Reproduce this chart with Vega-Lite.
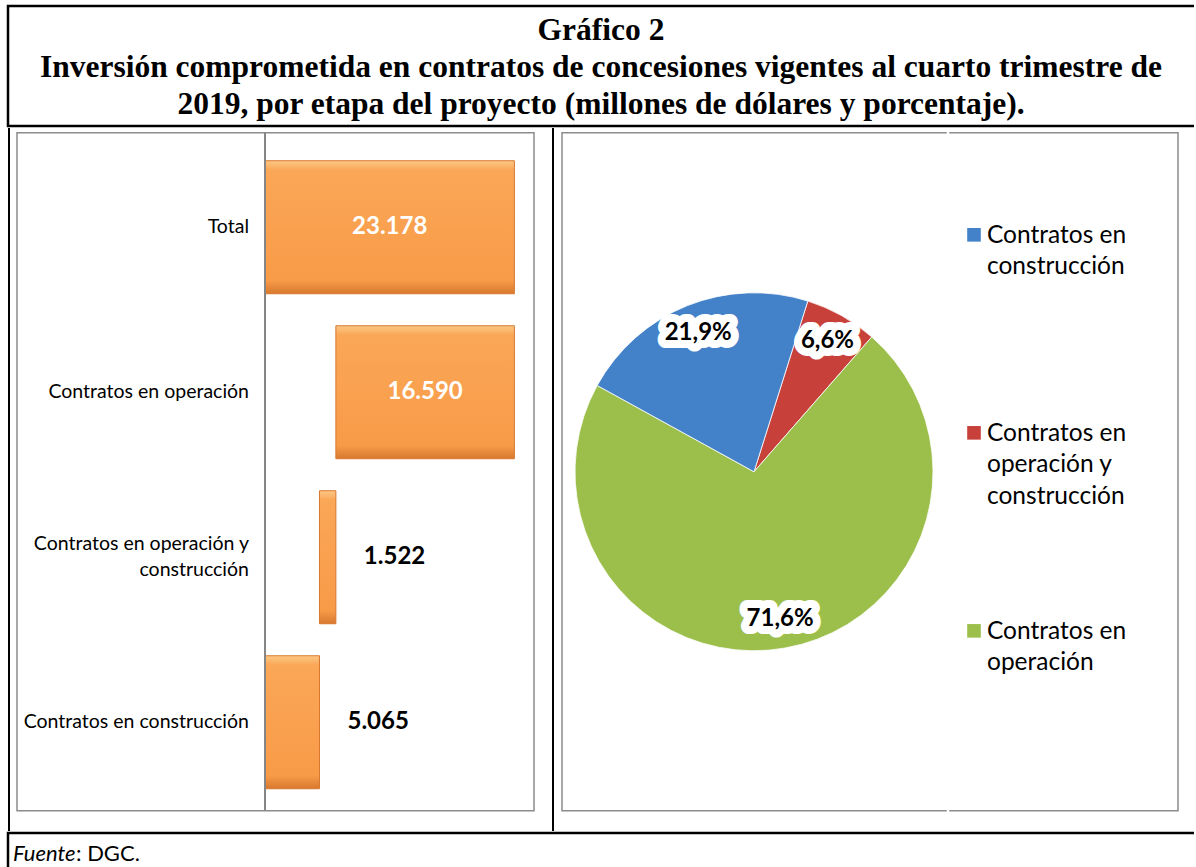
{
  "$schema": "https://vega.github.io/schema/vega-lite/v6.json",
  "padding": {"left": 6, "top": 4, "right": 0, "bottom": 0},
  "spacing": 0,
  "config": {
    "view": {"stroke": null},
    "font": "Lato",
    "locale": {"number": {"decimal": ",", "thousands": ".", "grouping": [3], "currency": ["", " €"]}}
  },
  "vconcat": [
    {
      "width": 1186,
      "height": 120,
      "view": {"stroke": "black", "strokeWidth": 2.5, "strokeDash": [1186, 120, 1306]},
      "data": {"values": [{"titulo": "Gráfico 2\nInversión comprometida en contratos de concesiones vigentes al cuarto trimestre de\n2019, por etapa del proyecto (millones de dólares y porcentaje)."}]},
      "mark": {"type": "text", "lineBreak": "\n", "font": "Liberation Serif", "fontWeight": "bold", "fontSize": 31.5, "lineHeight": 37, "baseline": "middle", "align": "center", "dy": -35, "color": "black"},
      "encoding": {"text": {"field": "titulo", "type": "nominal"}}
    },
    {
      "spacing": 6,
      "hconcat": [
        {"width": 2, "height": 703, "view": {"fill": "black", "stroke": null}, "data": {"values": []}, "mark": "point"},
        {
          "spacing": 1.75,
          "vconcat": [
            {"width": 529, "height": 1, "data": {"values": []}, "mark": "point"},
            {
              "width": 517,
              "height": 678,
              "view": {"stroke": "#8c8c8c", "strokeWidth": 1.5},
              "data": {"values": [
                {"categoria": "Total", "inicio": 0, "fin": 23178, "valor": 23178},
                {"categoria": "Contratos en operación", "inicio": 6587, "fin": 23178, "valor": 16590},
                {"categoria": "Contratos en operación y construcción", "inicio": 5065, "fin": 6587, "valor": 1522},
                {"categoria": "Contratos en construcción", "inicio": 0, "fin": 5065, "valor": 5065}
              ]},
              "encoding": {
                "y": {
                  "field": "categoria", "type": "nominal",
                  "sort": ["Total", "Contratos en operación", "Contratos en operación y construcción", "Contratos en construcción"],
                  "scale": {"paddingInner": 0.194, "paddingOuter": 0.1515, "align": 0.56},
                  "axis": null
                }
              },
              "layer": [
                {
                  "mark": {
                    "type": "bar",
                    "fill": {"gradient": "linear", "x1": 0, "y1": 0, "x2": 0, "y2": 1, "stops": [
                      {"offset": 0, "color": "#fcc886"},
                      {"offset": 0.07, "color": "#faa757"},
                      {"offset": 0.9, "color": "#f89b48"},
                      {"offset": 1, "color": "#d8792f"}
                    ]},
                    "stroke": "#d9782e", "strokeWidth": 1
                  },
                  "encoding": {
                    "x": {
                      "field": "inicio", "type": "quantitative",
                      "scale": {"domain": [-23048, 25000], "nice": false, "zero": false},
                      "axis": null
                    },
                    "x2": {"field": "fin"}
                  }
                },
                {
                  "mark": {"type": "rule", "color": "#868686", "strokeWidth": 1.5},
                  "encoding": {
                    "x": {"datum": 0, "type": "quantitative"},
                    "y": null
                  }
                },
                {
                  "transform": [{"filter": "indexof(datum.categoria, ' y ') < 0"}],
                  "mark": {"type": "text", "align": "right", "baseline": "middle", "dx": -16, "fontSize": 19.5, "color": "black"},
                  "encoding": {
                    "x": {"datum": 0, "type": "quantitative"},
                    "text": {"field": "categoria", "type": "nominal"}
                  }
                },
                {
                  "transform": [{"filter": "indexof(datum.categoria, ' y ') >= 0"}],
                  "mark": {"type": "text", "align": "right", "baseline": "middle", "dx": -16, "dy": -13, "fontSize": 19.5, "lineHeight": 26, "color": "black",
                           "text": {"expr": "split(replace(datum.categoria, ' y ', ' y|'), '|')"}},
                  "encoding": {
                    "x": {"datum": 0, "type": "quantitative"}
                  }
                },
                {
                  "transform": [
                    {"filter": "datum.fin - datum.inicio > 10000"},
                    {"fold": ["inicio", "fin"], "as": ["extremo", "posicion"]}
                  ],
                  "mark": {"type": "text", "color": "white", "fontWeight": "bold", "fontSize": 24, "align": "center", "baseline": "middle"},
                  "encoding": {
                    "x": {"field": "posicion", "aggregate": "mean", "type": "quantitative"},
                    "text": {"field": "valor", "type": "quantitative", "format": ",d"}
                  }
                },
                {
                  "transform": [{"filter": "datum.fin - datum.inicio <= 10000"}],
                  "mark": {"type": "text", "color": "black", "fontWeight": "bold", "fontSize": 24, "align": "left", "baseline": "middle", "dx": 28},
                  "encoding": {
                    "x": {"field": "fin", "type": "quantitative"},
                    "text": {"field": "valor", "type": "quantitative", "format": ",d"}
                  }
                }
              ]
            }
          ]
        },
        {"width": 2, "height": 703, "view": {"fill": "black", "stroke": null}, "data": {"values": []}, "mark": "point"},
        {
          "spacing": 1.75,
          "vconcat": [
            {"width": 1, "height": 1, "data": {"values": []}, "mark": "point"},
            {
              "spacing": 0,
              "hconcat": [
                {
                  "width": 384,
                  "height": 678,
                  "view": {"stroke": "#8c8c8c", "strokeWidth": 1.5, "strokeCap": "square", "strokeDash": [384, 678, 1062]},
                  "data": {"values": [
                    {"categoria": "Contratos en operación y construcción", "valor": 1522, "porcentaje": 0.066, "orden": 1},
                    {"categoria": "Contratos en operación", "valor": 16590, "porcentaje": 0.716, "orden": 2},
                    {"categoria": "Contratos en construcción", "valor": 5065, "porcentaje": 0.219, "orden": 3}
                  ]},
                  "encoding": {
                    "theta": {"field": "valor", "type": "quantitative", "stack": true, "scale": {"range": [0.3054, 6.5886]}},
                    "order": {"field": "orden", "type": "quantitative"}
                  },
                  "layer": [
                    {
                      "mark": {"type": "arc", "outerRadius": 179, "stroke": "#ffffff", "strokeWidth": 0.8},
                      "encoding": {
                        "color": {
                          "field": "categoria", "type": "nominal",
                          "scale": {"domain": ["Contratos en construcción", "Contratos en operación y construcción", "Contratos en operación"], "range": ["#4381c8", "#c8403a", "#9cbf4c"]},
                          "legend": null
                        }
                      }
                    },
                    {
                      "mark": {"type": "text", "radius": 150, "fontSize": 24, "fontWeight": "bold", "stroke": "white", "strokeWidth": 16, "strokeJoin": "round", "fill": "white"},
                      "encoding": {
                        "detail": {"field": "categoria", "type": "nominal"},
                        "text": {"field": "porcentaje", "type": "quantitative", "format": ".1%"}
                      }
                    },
                    {
                      "mark": {"type": "text", "radius": 150, "fontSize": 24, "fontWeight": "bold", "fill": "black"},
                      "encoding": {
                        "detail": {"field": "categoria", "type": "nominal"},
                        "text": {"field": "porcentaje", "type": "quantitative", "format": ".1%"}
                      }
                    }
                  ]
                },
                {
                  "width": 228,
                  "height": 678,
                  "view": {"stroke": "#8c8c8c", "strokeWidth": 1.5, "strokeCap": "square", "strokeDash": [1134, 678]},
                  "data": {"values": [
                    {"categoria": "Contratos en construcción"},
                    {"categoria": "Contratos en operación y construcción"},
                    {"categoria": "Contratos en operación"}
                  ]},
                  "encoding": {
                    "y": {"field": "categoria", "type": "nominal", "sort": null, "scale": {"type": "point", "padding": 0.712, "align": 0.362}, "axis": null}
                  },
                  "layer": [
                    {
                      "mark": {"type": "point", "shape": "square", "filled": true, "size": 185, "opacity": 1},
                      "encoding": {
                        "x": {"datum": 24, "type": "quantitative", "scale": {"domain": [0, 228], "nice": false, "zero": false}, "axis": null},
                        "color": {
                          "field": "categoria", "type": "nominal",
                          "scale": {"domain": ["Contratos en construcción", "Contratos en operación y construcción", "Contratos en operación"], "range": ["#4381c8", "#c8403a", "#9cbf4c"]},
                          "legend": null
                        }
                      }
                    },
                    {
                      "mark": {"type": "text", "align": "left", "baseline": "alphabetic", "dy": 8, "fontSize": 24.5, "lineHeight": 31.5, "color": "black",
                               "text": {"expr": "split(replace(replace(datum.categoria, ' en ', ' en|'), ' y ', ' y|'), '|')"}},
                      "encoding": {
                        "x": {"datum": 37, "type": "quantitative"}
                      }
                    }
                  ]
                }
              ]
            }
          ]
        }
      ]
    },
    {
      "width": 1186,
      "height": 35,
      "view": {"stroke": "black", "strokeWidth": 2.5, "strokeDash": [1186, 1221, 35]},
      "data": {"values": [{"fuente": "Fuente", "detalle": ": DGC."}]},
      "encoding": {
        "x": {"datum": 0, "type": "quantitative", "scale": {"domain": [0, 1], "nice": false, "zero": false}, "axis": null}
      },
      "layer": [
        {
          "mark": {"type": "text", "align": "left", "baseline": "middle", "dx": 5, "dy": 3, "fontSize": 22, "fontStyle": "italic", "color": "black"},
          "encoding": {"text": {"field": "fuente", "type": "nominal"}}
        },
        {
          "mark": {"type": "text", "align": "left", "baseline": "middle", "dx": 68, "dy": 3, "fontSize": 22, "color": "black"},
          "encoding": {"text": {"field": "detalle", "type": "nominal"}}
        }
      ]
    }
  ]
}
